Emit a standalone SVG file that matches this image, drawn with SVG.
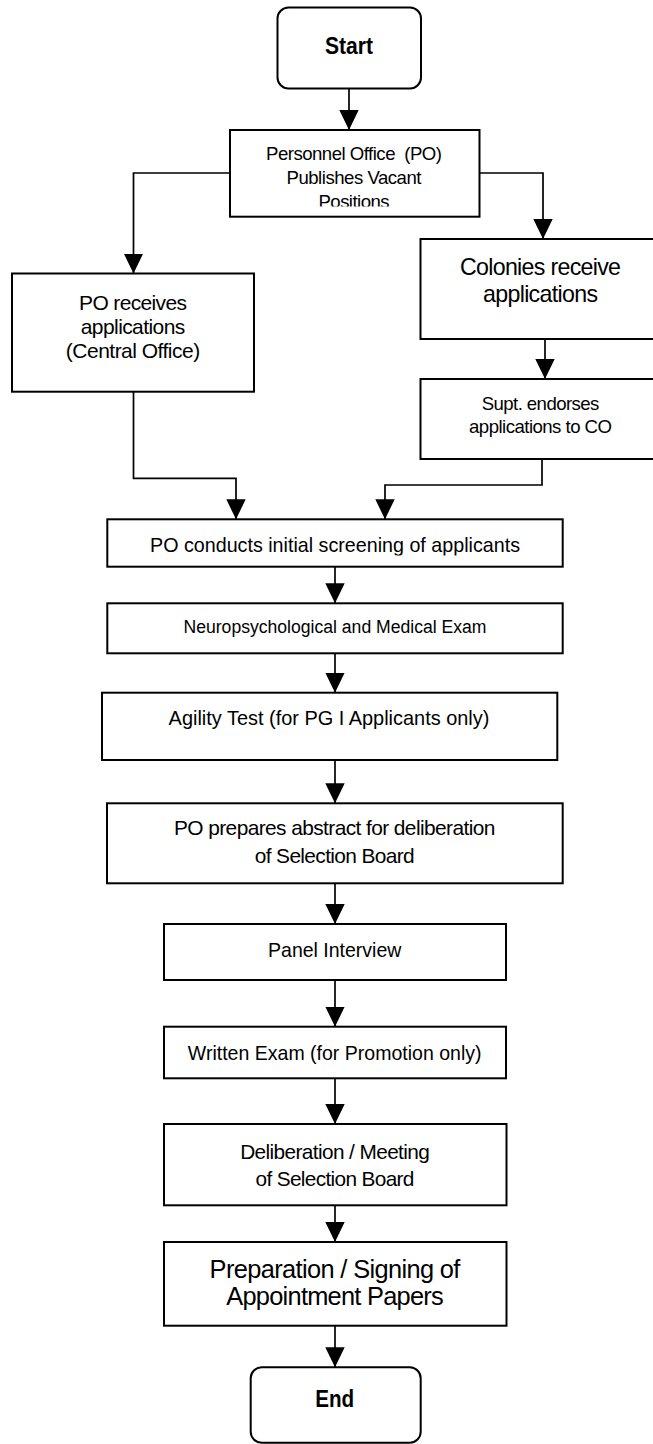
<svg xmlns="http://www.w3.org/2000/svg" width="653" height="1444" viewBox="0 0 653 1444">
<style>
.box{fill:#fff;stroke:#000;stroke-width:2}
.t{font-family:"Liberation Sans",Arial,sans-serif;fill:#000;text-anchor:middle}
.b{font-family:"Liberation Sans",Arial,sans-serif;font-weight:bold;fill:#000;text-anchor:middle}
.c{fill:none;stroke:#000;stroke-width:1.7}
</style>
<defs>
<marker id="ah" markerUnits="userSpaceOnUse" markerWidth="20" markerHeight="20" viewBox="0 0 20 20" refX="20" refY="10" orient="auto">
<path d="M0,0.3 L20,10 L0,19.7 z" fill="#000"/>
</marker>
<clipPath id="clipPO"><rect x="230" y="130" width="250" height="76.5"/></clipPath>
<clipPath id="clipScr"><rect x="107" y="519" width="456" height="36.5"/></clipPath>
</defs>
<rect width="653" height="1444" fill="#fff"/>

<g id="connectors">
<path class="c" d="M349,88.3 V130" marker-end="url(#ah)"/>
<path class="c" d="M230,173 H133.5 V273.5" marker-end="url(#ah)"/>
<path class="c" d="M479.5,173 H543 V239" marker-end="url(#ah)"/>
<path class="c" d="M545,339 V379" marker-end="url(#ah)"/>
<path class="c" d="M133.5,391.7 V478.3 H236 V519.3" marker-end="url(#ah)"/>
<path class="c" d="M542,459 V485 H385 V519.3" marker-end="url(#ah)"/>
<path class="c" d="M335,566.7 V603.3" marker-end="url(#ah)"/>
<path class="c" d="M335,653.3 V692.7" marker-end="url(#ah)"/>
<path class="c" d="M335,760 V803.3" marker-end="url(#ah)"/>
<path class="c" d="M335,883.3 V924" marker-end="url(#ah)"/>
<path class="c" d="M335,980 V1026.7" marker-end="url(#ah)"/>
<path class="c" d="M335,1078.3 V1124" marker-end="url(#ah)"/>
<path class="c" d="M335,1205.3 V1242" marker-end="url(#ah)"/>
<path class="c" d="M335,1325.7 V1367.3" marker-end="url(#ah)"/>
</g>

<g id="start">
<rect class="box" x="277.5" y="7.5" width="143.5" height="81" rx="11"/>
<text class="b" x="349" y="54.3" font-size="24" textLength="48" lengthAdjust="spacingAndGlyphs">Start</text>
</g>

<g id="publish">
<rect class="box" x="230" y="130" width="249.5" height="86.7"/>
<g clip-path="url(#clipPO)">
<text class="t" font-size="18.6" xml:space="preserve" lengthAdjust="spacingAndGlyphs"><tspan x="354" y="160" textLength="176">Personnel Office  (PO)</tspan><tspan x="354" y="184" textLength="135">Publishes Vacant</tspan><tspan x="354" y="208" textLength="71">Positions</tspan></text>
</g>
</g>

<g id="po-receives">
<rect class="box" x="12" y="273.5" width="242" height="118.2"/>
<text class="t" font-size="21" lengthAdjust="spacingAndGlyphs"><tspan x="133" y="310" textLength="107.8">PO receives</tspan><tspan x="133" y="334" textLength="104.5">applications</tspan><tspan x="133" y="358" textLength="134.3">(Central Office)</tspan></text>
</g>

<g id="colonies">
<rect class="box" x="420.5" y="239" width="245" height="100"/>
<text class="t" font-size="23.2" lengthAdjust="spacingAndGlyphs"><tspan x="540.5" y="275" textLength="161">Colonies receive</tspan><tspan x="540.5" y="302" textLength="115">applications</tspan></text>
</g>

<g id="supt">
<rect class="box" x="420.5" y="379" width="245" height="80"/>
<text class="t" font-size="18.6" lengthAdjust="spacingAndGlyphs"><tspan x="540.5" y="410" textLength="117.7">Supt. endorses</tspan><tspan x="540.5" y="433" textLength="143">applications to CO</tspan></text>
</g>

<g id="screening">
<rect class="box" x="107.3" y="519.3" width="455.4" height="47.4"/>
<g clip-path="url(#clipScr)">
<text class="t" font-size="21" x="335" y="551.7" textLength="370" lengthAdjust="spacingAndGlyphs">PO conducts initial screening of applicants</text>
</g>
</g>

<g id="neuro">
<rect class="box" x="107.3" y="603.3" width="455.4" height="50"/>
<text class="t" font-size="18.8" x="335" y="633.3" textLength="303" lengthAdjust="spacingAndGlyphs">Neuropsychological and Medical Exam</text>
</g>

<g id="agility">
<rect class="box" x="102" y="692.7" width="455.3" height="67.3"/>
<text class="t" font-size="21" x="329" y="725" textLength="320.8" lengthAdjust="spacingAndGlyphs">Agility Test (for PG I Applicants only)</text>
</g>

<g id="abstract">
<rect class="box" x="107" y="803.3" width="455.7" height="80"/>
<text class="t" font-size="20.9" lengthAdjust="spacingAndGlyphs"><tspan x="334.7" y="835" textLength="321.4">PO prepares abstract for deliberation</tspan><tspan x="334.7" y="863.3" textLength="159.8">of Selection Board</tspan></text>
</g>

<g id="panel">
<rect class="box" x="164" y="924" width="342" height="56"/>
<text class="t" font-size="20.8" x="334.7" y="956.7" textLength="133.3" lengthAdjust="spacingAndGlyphs">Panel Interview</text>
</g>

<g id="written">
<rect class="box" x="164" y="1026.7" width="342" height="51.6"/>
<text class="t" font-size="20.8" x="334.7" y="1060" textLength="293.7" lengthAdjust="spacingAndGlyphs">Written Exam (for Promotion only)</text>
</g>

<g id="deliberation">
<rect class="box" x="164" y="1124" width="342.5" height="81.3"/>
<text class="t" font-size="20.8" lengthAdjust="spacingAndGlyphs"><tspan x="335" y="1159" textLength="189.7">Deliberation / Meeting</tspan><tspan x="335" y="1186" textLength="158.9">of Selection Board</tspan></text>
</g>

<g id="appointment">
<rect class="box" x="164" y="1242" width="342.5" height="83.7"/>
<text class="t" font-size="25.4" lengthAdjust="spacingAndGlyphs"><tspan x="335" y="1278.3" textLength="250.8">Preparation / Signing of</tspan><tspan x="335" y="1305" textLength="217.4">Appointment Papers</tspan></text>
</g>

<g id="end">
<rect class="box" x="250.7" y="1367.3" width="170" height="75.4" rx="11"/>
<text class="b" x="334.7" y="1406.7" font-size="24" textLength="39" lengthAdjust="spacingAndGlyphs">End</text>
</g>
</svg>
